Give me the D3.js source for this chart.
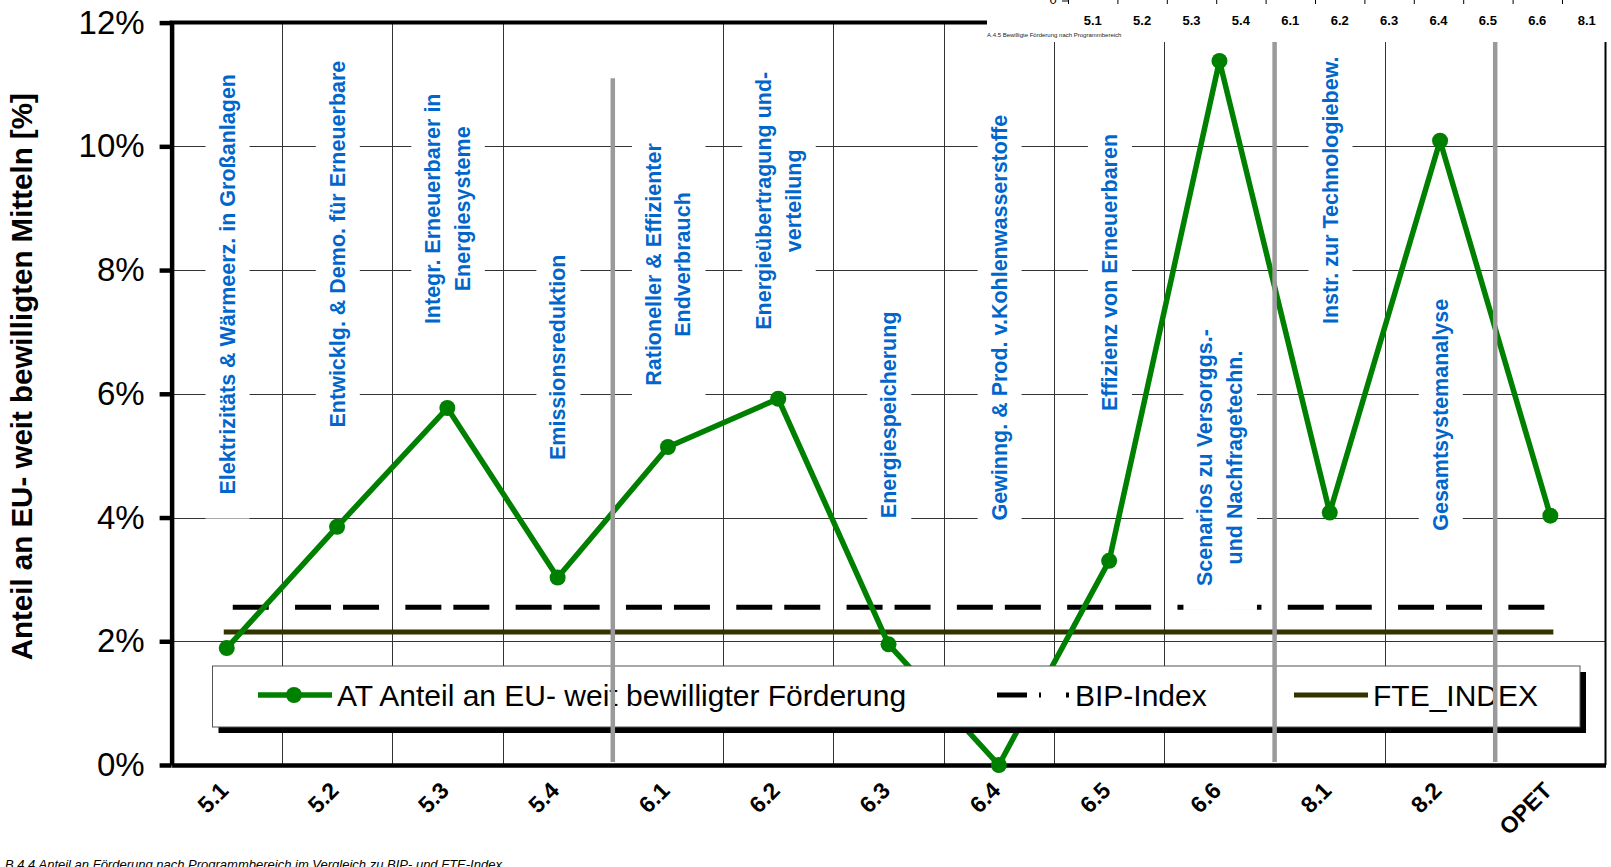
<!DOCTYPE html>
<html><head><meta charset="utf-8">
<script src="https://cdn.jsdelivr.net/npm/d3@7"></script>
<style>
body{margin:0;background:#fff;overflow:hidden}
svg{display:block;font-family:"Liberation Sans",Arial,sans-serif}
</style>
</head><body><svg id="c" width="1611" height="867"></svg>
<script>
// ---------------- data ----------------
const categories = ["5.1","5.2","5.3","5.4","6.1","6.2","6.3","6.4","6.5","6.6","8.1","8.2","OPET"];
const atShare    = [1.89, 3.85, 5.77, 3.03, 5.14, 5.92, 1.95, 0.00, 3.30, 11.38, 4.08, 10.09, 4.03];
const bipIndex   = 2.55;
const fteIndex   = 2.15;
const yTicks     = [0, 2, 4, 6, 8, 10, 12];
const areaLabels = [
  ["Elektrizitäts & Wärmeerz. in Großanlagen"],
  ["Entwicklg. & Demo. für Erneuerbare"],
  ["Integr. Erneuerbarer in", "Energiesysteme"],
  ["Emissionsreduktion"],
  ["Rationeller & Effizienter", "Endverbrauch"],
  ["Energieübertragung und-", "verteilung"],
  ["Energiespeicherung"],
  ["Gewinng. & Prod. v.Kohlenwasserstoffe"],
  ["Effizienz von Erneuerbaren"],
  ["Scenarios zu Versorggs.-", "und Nachfragetechn."],
  ["Instr. zur Technologiebew."],
  ["Gesamtsystemanalyse"]
];
const areaLabelAt   = [7.77, 8.42, 8.99, 6.59, 8.09, 9.12, 5.66, 7.23, 7.96, 4.97, 9.29, 5.66];
const separatorAfter = ["5.4", "6.6", "8.2"];
const separatorTop   = [11.1, 12, 12];
const seriesNames = ["AT Anteil an EU- weit bewilligter Förderung", "BIP-Index", "FTE_INDEX"];
const insetCategories = ["5.1","5.2","5.3","5.4","6.1","6.2","6.3","6.4","6.5","6.6","8.1"];
const yTitle = "Anteil an EU- weit bewilligten Mitteln [%]";
const caption = "B.4.4 Anteil an Förderung nach Programmbereich im Vergleich zu BIP- und FTE-Index";
const insetCaption = "A.4.5 Bewilligte Förderung nach Programmbereich";

// ---------------- layout ----------------
const svg = d3.select("#c");
const L = 171.6, R = 1605.5, T = 22.6, B = 765;
const x = d3.scaleBand().domain(categories).range([L, R]).padding(0);
const y = d3.scaleLinear().domain([0, 12]).range([B, T]);
const bw = x.bandwidth();
const cx = c => x(c) + bw / 2;
const GREEN = "#008000", BLUE = "#0066CC", OLIVE = "#333300";

// gridlines
const grid = svg.append("g");
grid.selectAll("line.h").data(yTicks.filter(v => v > 0 && v < 12)).join("line")
  .attr("x1", L).attr("x2", R).attr("y1", d => Math.round(y(d)) + 0.5).attr("y2", d => Math.round(y(d)) + 0.5)
  .attr("stroke", "#333").attr("stroke-width", 1);
grid.selectAll("line.v").data(categories.slice(1).filter((c, i) => !separatorAfter.includes(categories[i]))).join("line")
  .attr("x1", d => Math.round(x(d)) + 0.5).attr("x2", d => Math.round(x(d)) + 0.5)
  .attr("y1", T).attr("y2", B)
  .attr("stroke", "#333").attr("stroke-width", 1);

// BIP & FTE reference lines
const first = categories[0], last = categories[categories.length - 1];
svg.append("line")
  .attr("x1", cx(first)).attr("x2", cx(last)).attr("y1", y(bipIndex)).attr("y2", y(bipIndex))
  .attr("stroke", "#000").attr("stroke-width", 5)
  .attr("stroke-dasharray", [36, bw - 84, 36, 12].join(","))
  .attr("stroke-dashoffset", -6);
svg.append("line")
  .attr("x1", cx(first) - 3).attr("x2", cx(last) + 3).attr("y1", y(fteIndex)).attr("y2", y(fteIndex))
  .attr("stroke", OLIVE).attr("stroke-width", 5);

// area labels (vertical, blue, white boxes)
const lh = 29.5;
areaLabels.forEach((lines, i) => {
  const g = svg.append("g").attr("transform", `translate(${cx(categories[i])},${y(areaLabelAt[i])}) rotate(-90)`);
  const rect = g.append("rect").attr("fill", "#fff");
  const t = g.append("text").attr("text-anchor", "middle")
    .attr("font-size", 21.5).attr("font-weight", "bold").attr("fill", BLUE);
  lines.forEach((s, j) => {
    t.append("tspan").attr("x", 0).attr("y", (j - (lines.length - 1) / 2) * lh).attr("dy", "0.36em").text(s);
  });
  const bb = t.node().getBBox();
  rect.attr("x", bb.x - 24).attr("y", bb.y - 10).attr("width", bb.width + 48).attr("height", bb.height + 20);
});

// axes
const yAxis = svg.append("g").attr("transform", `translate(${L},0)`)
  .call(d3.axisLeft(y).tickValues(yTicks).tickFormat(d => d + "%").tickSize(12).tickSizeOuter(0).tickPadding(15));
yAxis.select(".domain").attr("stroke-width", 4.5).attr("stroke", "#000");
yAxis.selectAll(".tick line").attr("stroke-width", 4.5).attr("stroke", "#000");
yAxis.selectAll(".tick text").attr("font-size", 33).attr("font-family", "Liberation Sans, Arial, sans-serif").attr("fill", "#000");

const xAxis = svg.append("g").attr("transform", `translate(0,${B})`)
  .call(d3.axisBottom(x).tickSize(0).tickSizeOuter(0));
xAxis.select(".domain").attr("stroke-width", 4.5).attr("stroke", "#000");
xAxis.selectAll(".tick text")
  .attr("y", null).attr("dy", null)
  .attr("transform", "translate(3,27) rotate(-45)")
  .attr("text-anchor", "end")
  .attr("font-size", 23).attr("font-weight", "bold")
  .attr("font-family", "Liberation Sans, Arial, sans-serif").attr("fill", "#000");

// top and right frame
svg.append("line").attr("x1", L - 2).attr("x2", R).attr("y1", T).attr("y2", T).attr("stroke", "#000").attr("stroke-width", 4);
svg.append("line").attr("x1", R).attr("x2", R).attr("y1", T).attr("y2", B).attr("stroke", "#000").attr("stroke-width", 2);

// main series
const line = d3.line().x((d, i) => cx(categories[i])).y(d => y(d));
svg.append("path").datum(atShare).attr("d", line)
  .attr("fill", "none").attr("stroke", GREEN).attr("stroke-width", 5.5).attr("stroke-linejoin", "round");
svg.selectAll("circle.pt").data(atShare).join("circle")
  .attr("cx", (d, i) => cx(categories[i])).attr("cy", d => y(d)).attr("r", 8).attr("fill", GREEN);

// legend
const lg = svg.append("g");
const LX = 212.5, LY = 666, LW = 1367.5, LH = 61, LCY = 695;
lg.append("rect").attr("x", LX + 6).attr("y", LY + 6).attr("width", LW).attr("height", LH).attr("fill", "#000");
lg.append("rect").attr("x", LX).attr("y", LY).attr("width", LW).attr("height", LH).attr("fill", "#fff").attr("stroke", "#555").attr("stroke-width", 1);
lg.append("line").attr("x1", 258).attr("x2", 332).attr("y1", LCY).attr("y2", LCY).attr("stroke", GREEN).attr("stroke-width", 5.5);
lg.append("circle").attr("cx", 294).attr("cy", LCY).attr("r", 8).attr("fill", GREEN);
lg.append("line").attr("x1", 997).attr("x2", 1072).attr("y1", LCY).attr("y2", LCY).attr("stroke", "#000").attr("stroke-width", 5)
  .attr("stroke-dasharray", "30,12,2,25,3,10");
lg.append("line").attr("x1", 1294).attr("x2", 1368).attr("y1", LCY).attr("y2", LCY).attr("stroke", OLIVE).attr("stroke-width", 5);
[[337, 0], [1075, 1], [1373, 2]].forEach(([tx, k]) => {
  lg.append("text").attr("x", tx).attr("y", LCY + 11).attr("font-size", 30).attr("fill", "#000").text(seriesNames[k]);
});

// grey separators
svg.selectAll("line.sep").data(separatorAfter).join("line")
  .attr("x1", d => x(d) + bw).attr("x2", d => x(d) + bw)
  .attr("y1", (d, i) => y(separatorTop[i])).attr("y2", B - 3)
  .attr("stroke", "#9a9a9a").attr("stroke-width", 4.5);

// y title
svg.append("text").attr("transform", `translate(32,${(T + B) / 2 - 17}) rotate(-90)`)
  .attr("text-anchor", "middle").attr("font-size", 29.5).attr("font-weight", "bold").text(yTitle);

// caption
svg.append("text").attr("x", 5).attr("y", 869).attr("font-size", 13).attr("font-style", "italic").attr("fill", "#000").text(caption);

// inset fragment at top right
const ins = svg.append("g");
ins.append("rect").attr("x", 987).attr("y", 0).attr("width", 1611 - 987).attr("height", 42).attr("fill", "#fff");
const xi = d3.scaleBand().domain(insetCategories).range([1068, 1611.4]);
ins.selectAll("line.it").data(insetCategories).join("line")
  .attr("x1", d => xi(d) + 0.5).attr("x2", d => xi(d) + 0.5).attr("y1", 0).attr("y2", 4)
  .attr("stroke", "#000").attr("stroke-width", 1);
ins.append("line").attr("x1", 1062).attr("x2", 1068).attr("y1", 1).attr("y2", 1).attr("stroke", "#000");
ins.append("text").attr("x", 1053).attr("y", 4).attr("font-size", 13).attr("text-anchor", "middle").text("0");
ins.selectAll("text.il").data(insetCategories).join("text")
  .attr("x", d => xi(d) + xi.bandwidth() / 2).attr("y", 25)
  .attr("text-anchor", "middle").attr("font-size", 13).attr("font-weight", "bold").text(d => d);
ins.append("text").attr("x", 987).attr("y", 37).attr("font-size", 6).attr("fill", "#222").text(insetCaption);
</script>
</body></html>
